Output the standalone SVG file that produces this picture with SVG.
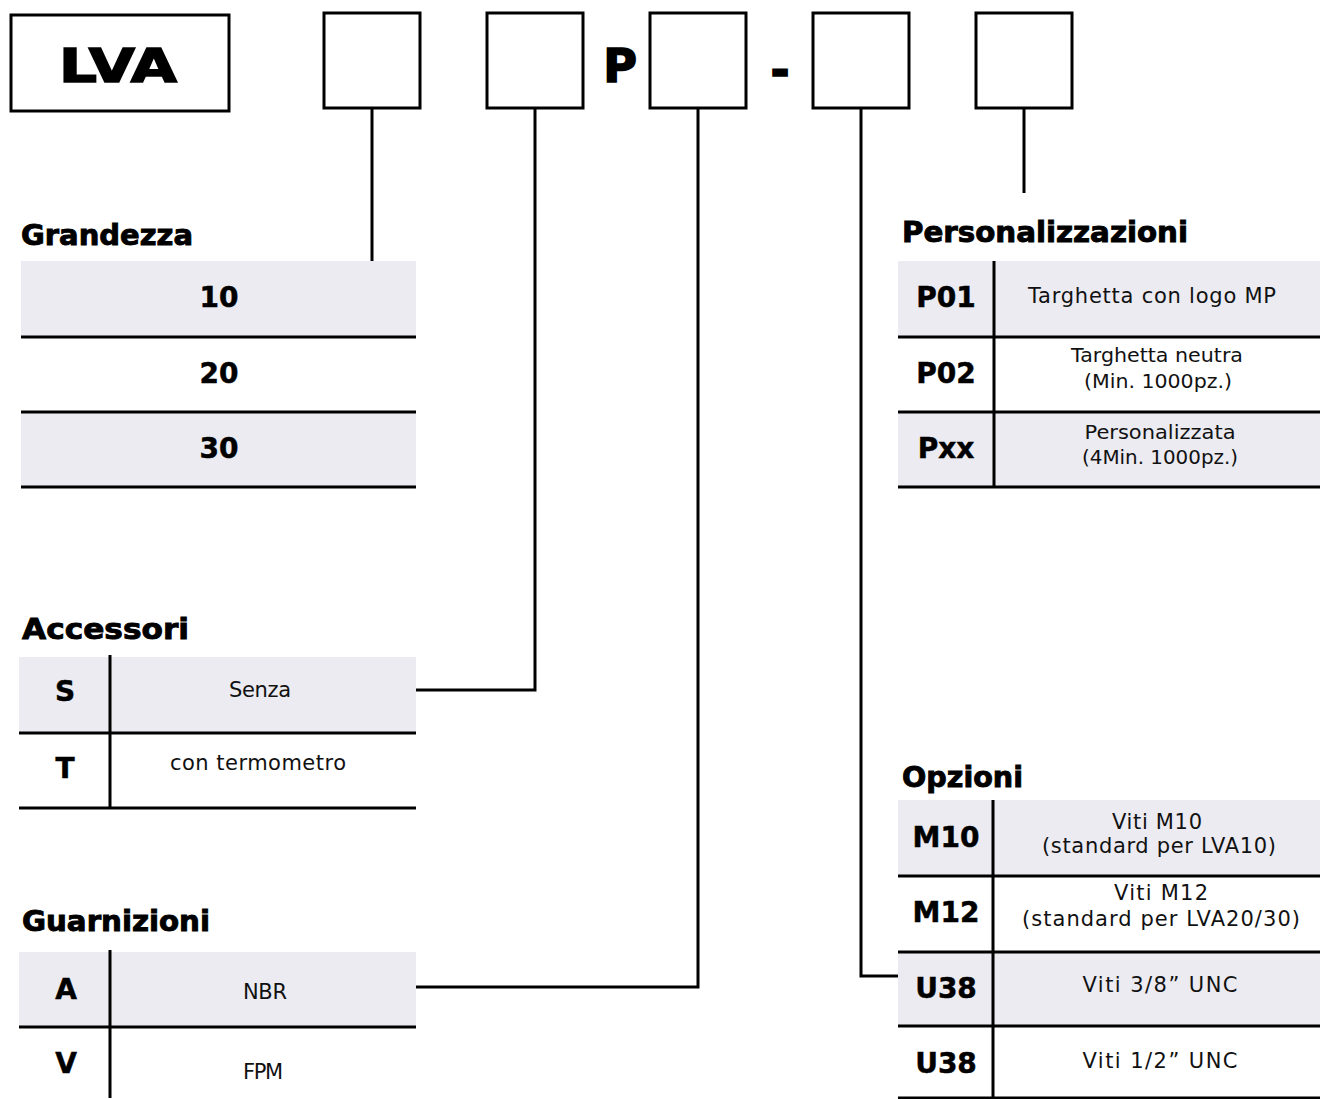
<svg xmlns="http://www.w3.org/2000/svg" width="1320" height="1099" viewBox="0 0 1320 1099">
<style>
.box{fill:#fff;stroke:#000;stroke-width:3}
.fill{fill:#ebebf1}
.ln{stroke:#000;stroke-width:3;fill:none}
.big{font-family:"DejaVu Sans","Liberation Sans",sans-serif;font-weight:bold;font-size:46px;fill:#000;stroke:#000;stroke-width:1.6}
.h{font-family:"DejaVu Sans","Liberation Sans",sans-serif;font-weight:bold;font-size:28px;fill:#000;stroke:#000;stroke-width:0.9}
.code{font-family:"DejaVu Sans","Liberation Sans",sans-serif;font-weight:bold;font-size:28px;fill:#000;stroke:#000;stroke-width:0.5;text-anchor:middle}
.d{font-family:"DejaVu Sans","Liberation Sans",sans-serif;font-size:21px;fill:#111;text-anchor:middle}
.s{font-size:20px}
</style>
<rect width="1320" height="1099" fill="#fff"/>

<g id="code-boxes">
  <g id="box-lva"><rect class="box" x="11" y="15" width="218" height="96"/><text class="big" x="118" y="82" text-anchor="middle" textLength="118" lengthAdjust="spacingAndGlyphs">LVA</text></g>
  <g id="box-1"><rect class="box" x="324" y="13" width="96" height="95"/></g>
  <g id="box-2"><rect class="box" x="487" y="13" width="96" height="95"/></g>
  <text id="lit-p" class="big" x="620" y="82" text-anchor="middle">P</text>
  <g id="box-3"><rect class="box" x="650" y="13" width="96" height="95"/></g>
  <text id="lit-dash" class="big" x="780" y="86" text-anchor="middle">-</text>
  <g id="box-4"><rect class="box" x="813" y="13" width="96" height="95"/></g>
  <g id="box-5"><rect class="box" x="976" y="13" width="96" height="95"/></g>
</g>

<g id="connectors">
  <path class="ln" d="M372,108 V261"/>
  <path class="ln" d="M535,108 V690 H416"/>
  <path class="ln" d="M698,108 V987 H416"/>
  <path class="ln" d="M861,108 V976 H898"/>
  <path class="ln" d="M1024,108 V193"/>
</g>

<g id="grandezza">
  <text class="h" x="21" y="245" textLength="172" lengthAdjust="spacingAndGlyphs">Grandezza</text>
  <rect class="fill" x="21" y="261" width="395" height="76"/>
  <rect class="fill" x="21" y="412" width="395" height="75"/>
  <path class="ln" d="M21,337 H416 M21,412 H416 M21,487 H416"/>
  <text class="code" x="219" y="307">10</text>
  <text class="code" x="219" y="383">20</text>
  <text class="code" x="219" y="458">30</text>
</g>

<g id="accessori">
  <text class="h" x="22" y="639" textLength="167" lengthAdjust="spacingAndGlyphs">Accessori</text>
  <rect class="fill" x="19" y="657" width="397" height="76"/>
  <path class="ln" d="M19,733 H416 M19,808 H416 M110,655 V808"/>
  <text class="code" x="65" y="701">S</text>
  <text class="d" x="260" y="697" textLength="62">Senza</text>
  <text class="code" x="65" y="778">T</text>
  <text class="d" x="258" y="770" textLength="176">con termometro</text>
</g>

<g id="guarnizioni">
  <text class="h" x="22" y="931" textLength="188" lengthAdjust="spacingAndGlyphs">Guarnizioni</text>
  <rect class="fill" x="19" y="952" width="397" height="75"/>
  <path class="ln" d="M19,1027 H416 M110,950 V1098"/>
  <text class="code" x="66" y="999">A</text>
  <text class="d" x="265" y="999" textLength="44">NBR</text>
  <text class="code" x="66" y="1073">V</text>
  <text class="d" x="263" y="1079" textLength="40">FPM</text>
</g>

<g id="personalizzazioni">
  <text class="h" x="902" y="242" textLength="286" lengthAdjust="spacingAndGlyphs">Personalizzazioni</text>
  <rect class="fill" x="898" y="261" width="422" height="76"/>
  <rect class="fill" x="898" y="412" width="422" height="75"/>
  <path class="ln" d="M898,337 H1320 M898,412 H1320 M898,487 H1320 M994,261 V487"/>
  <text class="code" x="946" y="307">P01</text>
  <text class="d" x="1152" y="303" textLength="248">Targhetta con logo MP</text>
  <text class="code" x="946" y="383">P02</text>
  <text class="d s" x="1157" y="362" textLength="172" lengthAdjust="spacingAndGlyphs">Targhetta neutra</text>
  <text class="d s" x="1158" y="388" textLength="148" lengthAdjust="spacingAndGlyphs">(Min. 1000pz.)</text>
  <text class="code" x="946" y="458">Pxx</text>
  <text class="d s" x="1160" y="439" textLength="151" lengthAdjust="spacingAndGlyphs">Personalizzata</text>
  <text class="d s" x="1160" y="464" textLength="156" lengthAdjust="spacingAndGlyphs">(4Min. 1000pz.)</text>
</g>

<g id="opzioni">
  <text class="h" x="902" y="787" textLength="121" lengthAdjust="spacingAndGlyphs">Opzioni</text>
  <rect class="fill" x="898" y="800" width="422" height="76"/>
  <rect class="fill" x="898" y="952" width="422" height="74"/>
  <path class="ln" d="M898,876 H1320 M898,952 H1320 M898,1026 H1320 M898,1098 H1320 M993,800 V1098"/>
  <text class="code" x="946" y="847">M10</text>
  <text class="d" x="1157" y="829" textLength="90">Viti M10</text>
  <text class="d" x="1159" y="853" textLength="234">(standard per LVA10)</text>
  <text class="code" x="946" y="922">M12</text>
  <text class="d" x="1161" y="900" textLength="94">Viti M12</text>
  <text class="d" x="1161" y="926" textLength="278">(standard per LVA20/30)</text>
  <text class="code" x="946" y="998">U38</text>
  <text class="d" x="1160" y="992" textLength="155">Viti 3/8” UNC</text>
  <text class="code" x="946" y="1073">U38</text>
  <text class="d" x="1160" y="1068" textLength="155">Viti 1/2” UNC</text>
</g>
</svg>
